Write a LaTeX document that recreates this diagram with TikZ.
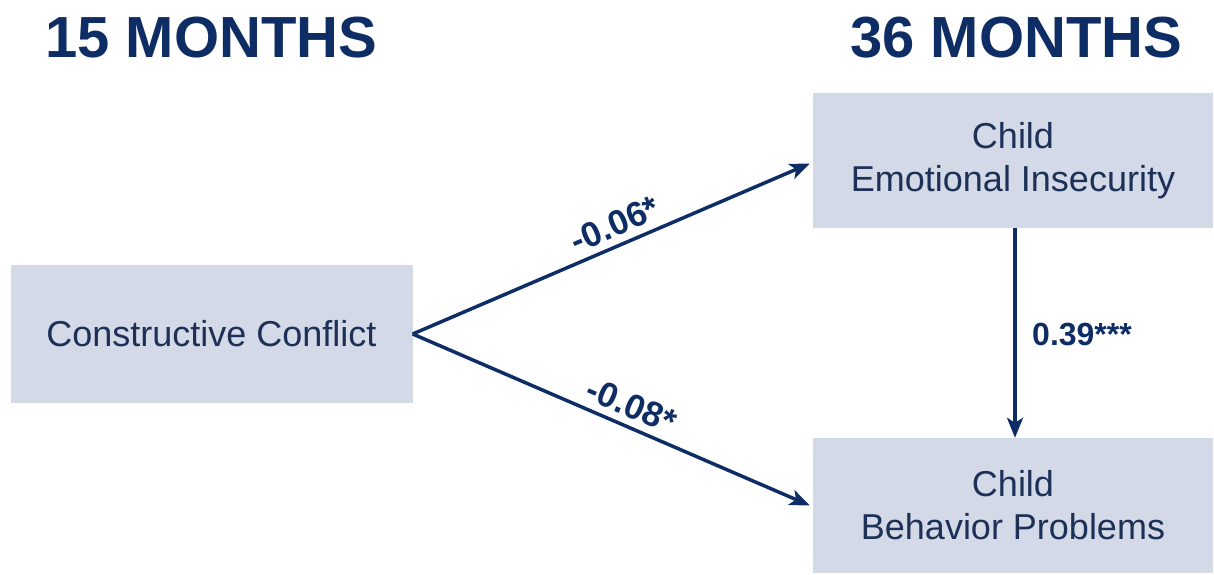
\documentclass[tikz,border=0pt]{standalone}
\usepackage{fontspec}
\setmainfont{Liberation Sans}
\usetikzlibrary{arrows.meta}
\definecolor{navy}{RGB}{14,45,100}
\definecolor{boxfill}{RGB}{211,217,230}
\definecolor{boxtext}{RGB}{28,48,88}
\tikzset{
  box/.style={rectangle, fill=boxfill, draw=none, text=boxtext, align=center,
    font=\fontsize{36}{43}\selectfont, inner sep=0pt},
  heading/.style={text=navy, font=\bfseries\fontsize{58}{64}\selectfont, inner sep=0pt},
  conn/.style={draw=navy, line width=3.5pt, -{Stealth[length=20pt,width=16pt,inset=5pt]}},
  coef/.style={text=navy, font=\bfseries\fontsize{32}{36}\selectfont},
  slopecoef/.style={text=navy, font=\bfseries\fontsize{35}{38}\selectfont, sloped, above, inner sep=7pt, pos=0.53},
}
\begin{document}
\begin{tikzpicture}[x=1pt,y=-1pt]
\useasboundingbox (0,0) rectangle (1214,574);
\node[heading, anchor=base west] (h15) at (45,57) {15 MONTHS};
\node[heading, anchor=base west] (h36) at (850,57) {36 MONTHS};
\node[box, minimum width=402pt, minimum height=138pt] (cc) at (211.5,334) {Constructive Conflict};
\node[box, minimum width=400pt, minimum height=135pt] (ei) at (1013,160.5) {Child\\Emotional Insecurity};
\node[box, minimum width=400pt, minimum height=135pt] (bp) at (1013,505.5) {Child\\Behavior Problems};
\draw[conn] (cc.east) -- node[slopecoef] {-0.06*} ([xshift=-3pt,yshift=-3pt]ei.west);
\draw[conn] (cc.east) -- node[slopecoef] {-0.08*} ([xshift=-3pt]bp.west);
\draw[conn] ([xshift=2pt]ei.south) -- ([xshift=2pt]bp.north);
\node[coef, anchor=base west, inner sep=0pt] (c39) at (1032,345) {0.39***};
\end{tikzpicture}
\end{document}
